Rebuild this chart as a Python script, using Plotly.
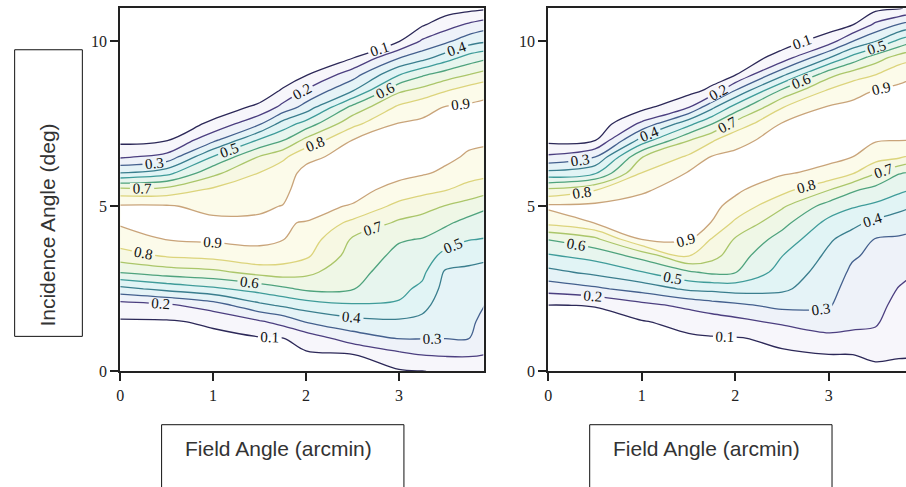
import numpy as np
import plotly.graph_objects as go

# grid coordinates (field angle columns, incidence angle rows)
field_cols = [0, 0.5, 1.0, 1.5, 1.75, 2.0, 2.5, 3.0, 3.25, 3.5, 3.75, 4.0]
incid_rows = [0, 0.5, 1, 1.5, 2, 2.5, 3, 3.5, 4, 4.5, 5, 5.5, 6, 6.5, 7, 7.5, 8, 8.5, 9, 9.5, 10, 10.5, 11]

# ---- left panel: efficiency per field-angle column (bottom -> top) ----
L_000 = [0.02,0.04,0.06,0.09,0.15,0.37,0.605,0.76,0.85,0.913,0.913,0.733,0.405,0.183,0.073,0.02,0.01,0.01,0.01,0.01,0.01,0.01,0.01]
L_050 = [0.03,0.05,0.07,0.09,0.18,0.43,0.65,0.81,0.903,0.934,0.91,0.74,0.467,0.229,0.094,0.03,0.01,0.01,0.01,0.01,0.01,0.01,0.01]
L_100 = [0.04,0.061,0.081,0.113,0.25,0.48,0.675,0.833,0.916,0.922,0.872,0.817,0.675,0.505,0.275,0.12,0.045,0.02,0.01,0.01,0.01,0.01,0.01]
L_150 = [0.05,0.071,0.092,0.186,0.375,0.54,0.733,0.88,0.913,0.91,0.891,0.87,0.805,0.705,0.514,0.286,0.12,0.045,0.02,0.01,0.01,0.01,0.01]
L_175 = [0.06,0.079,0.098,0.233,0.414,0.58,0.75,0.85,0.903,0.903,0.902,0.88,0.87,0.775,0.595,0.44,0.23,0.111,0.045,0.02,0.01,0.01,0.01]
L_200 = [0.07,0.087,0.14,0.305,0.45,0.62,0.725,0.816,0.856,0.898,0.92,0.94,0.919,0.883,0.729,0.54,0.34,0.211,0.089,0.03,0.01,0.01,0.01]
L_250 = [0.08,0.095,0.25,0.367,0.488,0.606,0.633,0.661,0.689,0.775,0.895,0.925,0.95,0.925,0.902,0.771,0.629,0.395,0.25,0.094,0.032,0.01,0.01]
L_300 = [0.09,0.175,0.305,0.383,0.489,0.524,0.55,0.576,0.608,0.685,0.767,0.875,0.92,0.945,0.93,0.905,0.82,0.683,0.49,0.295,0.095,0.035,0.01]
L_325 = [0.098,0.202,0.304,0.373,0.43,0.48,0.522,0.559,0.596,0.66,0.736,0.833,0.91,0.935,0.943,0.917,0.867,0.733,0.58,0.36,0.213,0.088,0.03]
L_350 = [0.11,0.21,0.302,0.323,0.345,0.366,0.387,0.467,0.55,0.617,0.695,0.805,0.883,0.92,0.945,0.93,0.905,0.795,0.643,0.45,0.278,0.157,0.05]
L_375 = [0.13,0.209,0.302,0.321,0.343,0.364,0.385,0.423,0.505,0.567,0.656,0.767,0.837,0.889,0.918,0.94,0.915,0.85,0.695,0.54,0.357,0.214,0.07]
L_400 = [0.15,0.195,0.225,0.253,0.281,0.314,0.362,0.415,0.492,0.547,0.605,0.725,0.822,0.878,0.91,0.927,0.916,0.888,0.75,0.595,0.395,0.267,0.09]

# ---- right panel ----
R_000 = [0.03,0.047,0.064,0.081,0.098,0.238,0.371,0.489,0.605,0.829,0.92,0.72,0.433,0.217,0.073,0.02,0.01,0.01,0.01,0.01,0.01,0.01,0.01]
R_050 = [0.04,0.055,0.07,0.085,0.102,0.282,0.425,0.536,0.675,0.904,0.923,0.795,0.49,0.295,0.094,0.03,0.01,0.01,0.01,0.01,0.01,0.01,0.01]
R_100 = [0.05,0.065,0.079,0.094,0.17,0.34,0.495,0.633,0.903,0.929,0.924,0.891,0.805,0.695,0.44,0.22,0.069,0.02,0.01,0.01,0.01,0.01,0.01]
R_150 = [0.06,0.075,0.089,0.126,0.225,0.42,0.586,0.805,0.905,0.928,0.95,0.929,0.908,0.814,0.695,0.467,0.195,0.066,0.02,0.01,0.01,0.01,0.01]
R_175 = [0.07,0.082,0.093,0.147,0.256,0.428,0.62,0.735,0.793,0.898,0.92,0.94,0.921,0.905,0.786,0.595,0.375,0.125,0.045,0.02,0.01,0.01,0.01]
R_200 = [0.07,0.083,0.095,0.17,0.279,0.442,0.604,0.648,0.691,0.78,0.873,0.916,0.94,0.918,0.875,0.733,0.54,0.305,0.089,0.03,0.01,0.01,0.01]
R_250 = [0.08,0.091,0.115,0.22,0.327,0.419,0.459,0.502,0.563,0.631,0.714,0.836,0.909,0.938,0.933,0.906,0.795,0.62,0.367,0.14,0.054,0.02,0.01]
R_300 = [0.09,0.098,0.173,0.254,0.31,0.333,0.357,0.381,0.412,0.473,0.558,0.705,0.875,0.92,0.945,0.932,0.909,0.814,0.66,0.395,0.15,0.054,0.01]
R_325 = [0.085,0.099,0.183,0.217,0.239,0.261,0.283,0.311,0.363,0.425,0.51,0.617,0.809,0.902,0.925,0.94,0.918,0.875,0.743,0.533,0.295,0.093,0.03]
R_350 = [0.08,0.115,0.176,0.211,0.228,0.245,0.262,0.279,0.295,0.378,0.48,0.567,0.705,0.846,0.907,0.931,0.927,0.904,0.795,0.65,0.395,0.22,0.07]
R_375 = [0.07,0.109,0.131,0.152,0.174,0.196,0.225,0.256,0.288,0.346,0.43,0.523,0.605,0.82,0.902,0.923,0.936,0.916,0.875,0.743,0.525,0.305,0.09]
R_400 = [0.06,0.11,0.127,0.143,0.16,0.177,0.193,0.226,0.27,0.32,0.387,0.48,0.573,0.743,0.902,0.915,0.93,0.916,0.903,0.795,0.625,0.38,0.15]

left_cols = [L_000, L_050, L_100, L_150, L_175, L_200, L_250, L_300, L_325, L_350, L_375, L_400]
right_cols = [R_000, R_050, R_100, R_150, R_175, R_200, R_250, R_300, R_325, R_350, R_375, R_400]

x_ticks = [0, 1, 2, 3]
y_ticks = [0, 5, 10]
x_title = "Field Angle (arcmin)"
y_title = "Incidence Angle (deg)"

W, H = 906, 487
def px(v):
    return v / W
def py(v):
    return 1 - v / H

fill_scale = [[0.0, '#ffffff'], [0.111, '#f7f6fb'], [0.222, '#eef2f9'], [0.333, '#e5f3f7'],
              [0.444, '#e1f4f5'], [0.556, '#e7f5ee'], [0.667, '#eff7e6'], [0.778, '#f7f8e3'],
              [0.889, '#fcfbea'], [1.0, '#ffffff']]
line_scale = [[0.0, '#2c2858'], [0.125, '#4c3f80'], [0.25, '#44608e'], [0.375, '#3a7e8e'],
              [0.5, '#3f9c9a'], [0.625, '#4fa37e'], [0.75, '#abc66a'], [0.875, '#dcd47c'],
              [1.0, '#c9a47a']]

fig = go.Figure()
for cols, xa, ya in [(left_cols, 'x', 'y'), (right_cols, 'x2', 'y2')]:
    z = np.array(cols).T
    fig.add_trace(go.Contour(
        x=field_cols, y=incid_rows, z=z, xaxis=xa, yaxis=ya,
        contours=dict(start=0.1, end=0.9, size=0.1, coloring='fill', showlines=False),
        colorscale=fill_scale, showscale=False, line=dict(width=0), hoverinfo='skip'))
    fig.add_trace(go.Contour(
        x=field_cols, y=incid_rows, z=z, xaxis=xa, yaxis=ya,
        contours=dict(start=0.1, end=0.9, size=0.1, coloring='lines', showlabels=True,
                      labelfont=dict(family='Liberation Serif', size=15, color='#111'),
                      labelformat='.1f'),
        colorscale=line_scale, zmin=0.1, zmax=0.9, showscale=False,
        line=dict(width=1.3), hoverinfo='skip'))

ydom = [py(378.3), py(8.3)]
axis_common = dict(showgrid=False, zeroline=False, ticks='outside', ticklen=8, tickwidth=2,
                   tickcolor='#222', showline=True, linecolor='#222', linewidth=2,
                   tickfont=dict(family='Liberation Serif', size=16, color='#222'))

fig.update_layout(
    width=W, height=H, autosize=False,
    margin=dict(l=0, r=0, t=0, b=0),
    paper_bgcolor='white', plot_bgcolor='white',
    showlegend=False,
    xaxis=dict(domain=[px(116.7), px(481.7)], range=[0, 3.91], tickvals=x_ticks,
               anchor='y', mirror=True, **axis_common),
    yaxis=dict(domain=ydom, range=[0, 11], tickvals=y_ticks, anchor='x', mirror=True,
               **axis_common),
    xaxis2=dict(domain=[px(546.7), 1.0], range=[0, (906 - 546.7) / 93.9], tickvals=x_ticks,
                anchor='y2', mirror=True, **axis_common),
    yaxis2=dict(domain=ydom, range=[0, 11], tickvals=y_ticks, anchor='x2', mirror=False,
                **axis_common),
)

shapes = [
    dict(type='rect', xref='paper', yref='paper', x0=px(10.7), x1=px(78.7), y0=py(342.7), y1=py(50.7),
         line=dict(color='#111', width=1)),
    dict(type='rect', xref='paper', yref='paper', x0=px(158.3), x1=px(401.7), y0=-0.1, y1=py(432.7),
         line=dict(color='#111', width=1)),
    dict(type='rect', xref='paper', yref='paper', x0=px(588.3), x1=px(831.7), y0=-0.1, y1=py(432.7),
         line=dict(color='#111', width=1)),
]
fig.update_layout(shapes=shapes)

annots = [
    dict(x=px(44), y=py(229), text=y_title, textangle=-90, showarrow=False, xref='paper', yref='paper',
         xanchor='center', yanchor='middle',
         font=dict(family='Liberation Sans', size=21, color='#333')),
    dict(x=px(275.8), y=py(456.7), text=x_title, showarrow=False, xref='paper', yref='paper',
         xanchor='center', yanchor='middle',
         font=dict(family='Liberation Sans', size=21, color='#333')),
    dict(x=px(705.8), y=py(456.7), text=x_title, showarrow=False, xref='paper', yref='paper',
         xanchor='center', yanchor='middle',
         font=dict(family='Liberation Sans', size=21, color='#333')),
]
fig.update_layout(annotations=annots)

fig.write_html("out.html")
